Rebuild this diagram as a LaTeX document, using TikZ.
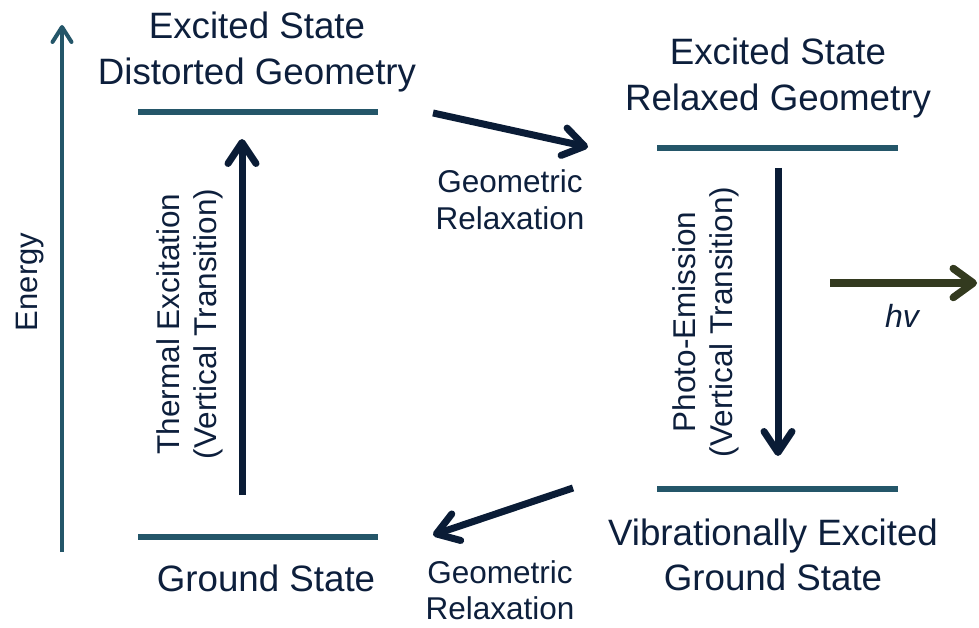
\documentclass[tikz,border=0pt]{standalone}
\usepackage{fontspec}
\setmainfont{Liberation Sans}
\usetikzlibrary{arrows.meta}
\definecolor{txt}{HTML}{0D1F3C}
\definecolor{lvl}{HTML}{245669}
\definecolor{arr}{HTML}{0A1C36}
\definecolor{hvc}{HTML}{333A1F}
\begin{document}
\begin{tikzpicture}[x=1pt,y=-1pt,
  big/.style={font=\fontsize{36.7}{45.5}\selectfont, text=txt, align=center, inner sep=0pt},
  small/.style={font=\fontsize{31.5}{37}\selectfont, text=txt, align=center, inner sep=0pt},
  level/.style={draw=lvl, line width=6pt},
  trans/.style={draw=arr, line width=7pt, -{Straight Barb[length=21pt,width=28pt,round]}},
  axis/.style={draw=lvl, line width=4pt, -{Straight Barb[length=15pt,width=19pt,round]}},
]
\useasboundingbox (0,0) rectangle (979,628);
% energy axis
\coordinate (ea) at (62,552);
\coordinate (eb) at (62,25);
\draw[axis] (ea) -- (eb);
\node[small, rotate=90, font=\fontsize{31}{37}\selectfont] (energy) at (30,282) {Energy};
% levels
\coordinate (l1a) at (138,112); \coordinate (l1b) at (378,112);
\coordinate (l2a) at (138,537); \coordinate (l2b) at (378,537);
\coordinate (r1a) at (657,148); \coordinate (r1b) at (898,148);
\coordinate (r2a) at (657,489); \coordinate (r2b) at (898,489);
\draw[level] (l1a) -- (l1b);
\draw[level] (l2a) -- (l2b);
\draw[level] (r1a) -- (r1b);
\draw[level] (r2a) -- (r2b);
% state labels
\node[big] (esd) at (257,52) {Excited State\\Distorted Geometry};
\node[big] (esr) at (778,78) {Excited State\\Relaxed Geometry};
\node[big] (gs) at (266,578) {Ground State};
\node[big] (vegs) at (773,555) {Vibrationally Excited\\Ground State};
% transitions
\coordinate (t1) at (242,495); \coordinate (t2) at (242,139);
\draw[trans] (t1) -- (t2);
\node[small, rotate=90] (thermal) at (190,324) {Thermal Excitation\\(Vertical Transition)};
\coordinate (p1) at (778,168); \coordinate (p2) at (778,456);
\draw[trans] (p1) -- (p2);
\node[small, rotate=90] (photo) at (706,322) {Photo-Emission\\(Vertical Transition)};
\coordinate (g1) at (433,113); \coordinate (g2) at (588,147);
\draw[trans] (g1) -- (g2);
\node[small] (geo1) at (510,200) {Geometric\\Relaxation};
\coordinate (g3) at (573,488); \coordinate (g4) at (433,535);
\draw[trans] (g3) -- (g4);
\node[small, font=\fontsize{31.5}{35.5}\selectfont] (geo2) at (500,590) {Geometric\\Relaxation};
% hv
\coordinate (h1) at (830,283); \coordinate (h2) at (977,283);
\draw[draw=hvc, line width=7.5pt, -{Straight Barb[length=20pt,width=29pt,round]}] (h1) -- (h2);
\node[small, font=\fontsize{32}{37}\selectfont\itshape] (hv) at (902,316) {hv};
\end{tikzpicture}
\end{document}
